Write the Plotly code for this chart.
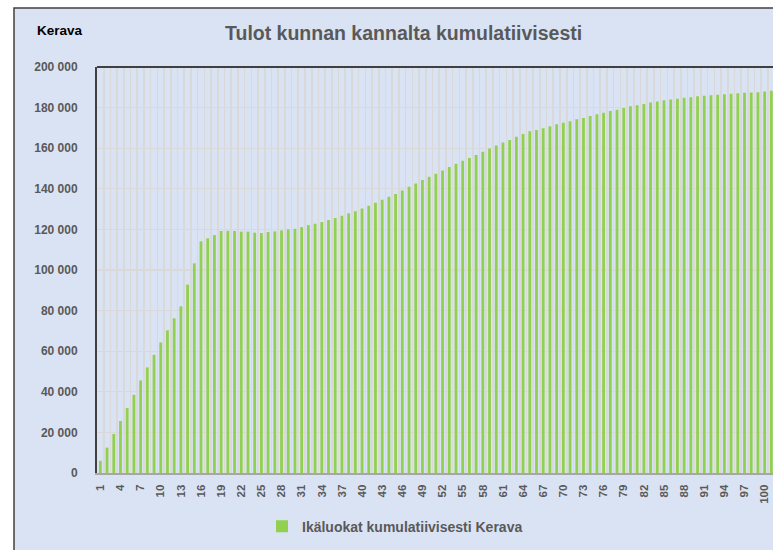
import plotly.graph_objects as go

ages = list(range(1, 102))
values_k = [
    6.0, 12.5, 19.2, 25.6, 32.0, 38.5, 45.6, 52.0, 58.2, 64.3,
    70.3, 76.2, 82.1, 92.8, 103.3, 114.1, 115.6, 117.2, 119.2, 119.3,
    119.2, 118.9, 118.9, 118.4, 118.2, 118.7, 119.0, 119.5, 120.0, 120.3,
    121.1, 122.1, 122.8, 123.6, 124.6, 125.6, 126.7, 128.0, 129.0, 130.3,
    131.6, 133.1, 134.6, 136.1, 137.5, 139.2, 141.0, 142.6, 144.3, 145.9,
    147.4, 149.0, 150.7, 152.3, 153.8, 155.2, 156.7, 158.2, 159.8, 161.3,
    162.8, 164.1, 165.6, 167.0, 168.4, 169.0, 169.8, 170.8, 171.8, 172.5,
    173.3, 174.3, 174.9, 175.9, 176.7, 177.5, 178.3, 179.0, 179.8, 180.7,
    181.2, 181.8, 182.5, 183.0, 183.6, 184.0, 184.3, 184.8, 185.1, 185.6,
    185.8, 186.1, 186.3, 186.6, 186.8, 187.1, 187.3, 187.4, 187.6, 187.9,
    188.3,
]
values = [v * 1000 for v in values_k]

x_tick_vals = list(range(1, 101, 3))
y_tick_vals = list(range(0, 200001, 20000))
y_tick_text = ["0" if v == 0 else f"{v // 1000} 000" for v in y_tick_vals]

series_name = "Ikäluokat kumulatiivisesti Kerava"
title_text = "Tulot kunnan kannalta kumulatiivisesti"
corner_text = "Kerava"

FONT = "Liberation Sans, Arial, sans-serif"
GRAY = "#595959"

fig = go.Figure()
fig.add_trace(go.Bar(
    x=ages, y=values, name=series_name,
    marker=dict(color="#92d050", line=dict(width=0)),
    width=0.42, showlegend=True,
))

L, T = 97, 67
W, H = 773, 550
plot_w = W - L
plot_h = 473.3 - T
px_per_cat = 6.71

def px_x(x):
    return (x - L) / plot_w

def px_y(y):
    return (473.3 - y) / plot_h

fig.update_layout(
    template="none",
    width=W, height=H,
    margin=dict(l=L, r=0, t=T, b=H - 473, autoexpand=False),
    paper_bgcolor="white",
    plot_bgcolor="white",
    font=dict(family=FONT, color=GRAY, size=12),
    showlegend=True,
    legend=dict(
        orientation="h", x=px_x(262), xanchor="left",
        y=px_y(527), yanchor="middle",
        font=dict(family=FONT, size=14, color=GRAY, weight="bold"),
        bgcolor="rgba(0,0,0,0)", itemwidth=30,
    ),
    xaxis=dict(
        automargin=False,
        range=[0.5, 0.5 + plot_w / px_per_cat],
        tickmode="array", tickvals=x_tick_vals,
        ticktext=[str(v) for v in x_tick_vals],
        tickangle=-90,
        tickfont=dict(family=FONT, size=11.5, color=GRAY, weight="bold"),
        showgrid=False,
        showline=True, linecolor="#a6a6a6", linewidth=2,
        ticks="", ticklabelstandoff=5,
        zeroline=False,
        minor=dict(tickmode="linear", tick0=0.5, dtick=1, showgrid=True,
                   gridcolor="#d9d9d9", gridwidth=1.6, ticks=""),
        fixedrange=True,
    ),
    yaxis=dict(
        automargin=False,
        range=[0, 200000],
        tickmode="array", tickvals=y_tick_vals, ticktext=y_tick_text,
        tickfont=dict(family=FONT, size=12, color=GRAY, weight="bold"),
        showgrid=True, gridcolor="#d9d9d9", gridwidth=1.2,
        showline=True, linecolor="#404040", linewidth=2,
        ticks="", ticklabelstandoff=15,
        zeroline=False,
        fixedrange=True,
    ),
    shapes=[
        dict(type="rect", xref="paper", yref="paper",
             x0=px_x(14), x1=px_x(800), y0=px_y(600), y1=px_y(8),
             fillcolor="#dae3f3", line=dict(color="#404040", width=1.5),
             layer="below"),
        dict(type="line", xref="paper", yref="paper",
             x0=0, x1=1, y0=1, y1=1,
             line=dict(color="#404040", width=2)),
    ],
    annotations=[
        dict(text=title_text, xref="paper", yref="paper",
             x=px_x(403), y=px_y(33), xanchor="center", yanchor="middle",
             showarrow=False,
             font=dict(family=FONT, size=19.5, color=GRAY, weight="bold")),
        dict(text=corner_text, xref="paper", yref="paper",
             x=px_x(35), y=px_y(30), xanchor="left", yanchor="middle",
             showarrow=False,
             font=dict(family=FONT, size=13.5, color="black", weight="bold")),
    ],
)

fig.write_html(
    "out.html",
    config={"displayModeBar": False, "staticPlot": True},
    post_script="document.body.style.margin='0';document.body.style.overflow='hidden';",
)
